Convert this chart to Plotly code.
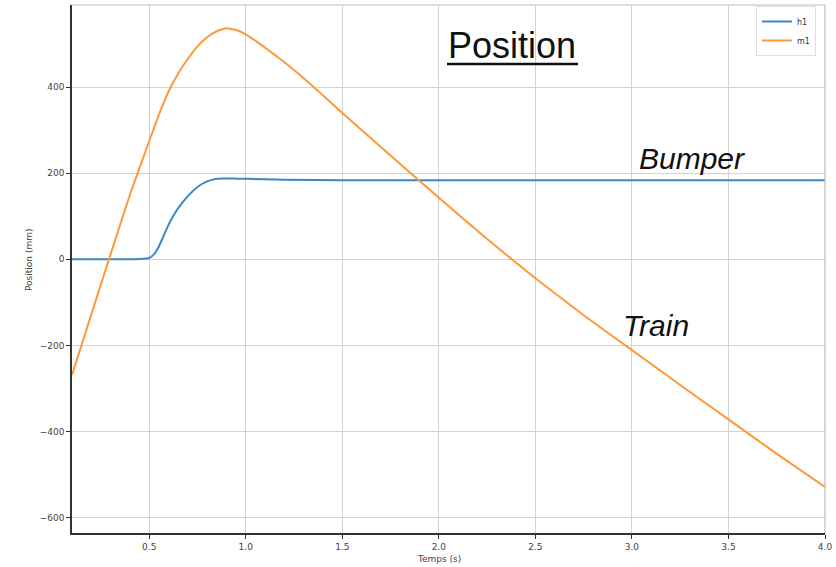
import plotly.graph_objects as go

# ---- data ----
t_h1 = [0.1, 0.3, 0.45, 0.5, 0.525, 0.55, 0.575, 0.6, 0.625, 0.65, 0.7, 0.75, 0.8, 0.85,
        0.88, 0.95, 1.0, 1.2, 1.5, 2.0, 2.5, 3.0, 3.5, 4.0]
h1 = [0, 0, 1, 3, 12, 30, 55, 80, 101, 119, 147, 168, 181, 187,
      188, 187.5, 187, 185, 184, 184, 184, 184, 184, 184]

t_m1 = [0.1, 0.2, 0.3, 0.4, 0.45, 0.5, 0.55, 0.6, 0.65, 0.7, 0.75, 0.8, 0.85, 0.9, 0.95,
        1.0, 1.05, 1.1, 1.15, 1.2, 1.3, 1.4, 1.5,
        1.75, 2.0, 2.25, 2.5, 2.75, 3.0, 3.25, 3.5, 3.75, 4.0]
m1 = [-269, -128, 12, 150, 213, 275, 336, 390, 432, 466, 495, 516, 530, 537, 533,
      523, 508, 492, 475, 458, 421, 381, 340,
      241, 143, 47, -44, -130, -211, -292, -372, -452, -529]

x_ticks = [0.5, 1.0, 1.5, 2.0, 2.5, 3.0, 3.5, 4.0]
x_ticklabels = ["0.5", "1.0", "1.5", "2.0", "2.5", "3.0", "3.5", "4.0"]
y_ticks = [-600, -400, -200, 0, 200, 400]
y_ticklabels = ["\u2212600", "\u2212400", "\u2212200", "0", "200", "400"]

series_names = ["h1", "m1"]
colors = ["#3f86c4", "#ff9838"]

W, H = 836, 567
L, R, T, B = 72, 825, 5, 533


def px(xp):
    return (xp - L) / (R - L)


def py(yp):
    return (B - yp) / (B - T)


fig = go.Figure()
fig.add_trace(go.Scatter(x=t_h1, y=h1, mode="lines", name=series_names[0],
                         line=dict(color=colors[0], width=2, shape="spline", smoothing=0.4)))
fig.add_trace(go.Scatter(x=t_m1, y=m1, mode="lines", name=series_names[1],
                         line=dict(color=colors[1], width=2, shape="spline", smoothing=0.4)))

axis_common = dict(showgrid=True, gridcolor="#d2d2d2", gridwidth=1.2, zeroline=False,
                   showline=True, linecolor="#333333", linewidth=1.6,
                   ticks="outside", ticklen=4, tickwidth=1, tickcolor="#333333",
                   tickfont=dict(family="DejaVu Sans", size=9, color="#444444"))

fig.update_xaxes(range=[0.1, 4.0], tickvals=x_ticks, ticktext=x_ticklabels, **axis_common)
fig.update_yaxes(range=[-636, 591], tickvals=y_ticks, ticktext=y_ticklabels, **axis_common)

# light top / right frame
fig.add_shape(type="line", xref="paper", yref="paper", x0=0, x1=1, y0=1, y1=1,
              line=dict(color="#bdbdbd", width=1.2))
fig.add_shape(type="line", xref="paper", yref="paper", x0=1, x1=1, y0=0, y1=1,
              line=dict(color="#bdbdbd", width=1.2))

# Title "Position" with underline
fig.add_annotation(text="Position", xref="paper", yref="paper", x=px(512), y=py(46),
                   showarrow=False, xanchor="center", yanchor="middle",
                   font=dict(family="Liberation Sans", size=36, color="#111111"))
fig.add_shape(type="line", xref="paper", yref="paper", x0=px(447), x1=px(578),
              y0=py(64), y1=py(64), line=dict(color="#111111", width=2.5))

fig.add_annotation(text="<i>Bumper</i>", xref="paper", yref="paper", x=px(692), y=py(159),
                   showarrow=False, xanchor="center", yanchor="middle",
                   font=dict(family="Liberation Sans", size=30, color="#111111"))
fig.add_annotation(text="<i>Train</i>", xref="paper", yref="paper", x=px(656), y=py(325),
                   showarrow=False, xanchor="center", yanchor="middle",
                   font=dict(family="Liberation Sans", size=30, color="#111111"))

# axis titles
fig.add_annotation(text="Temps (s)", xref="paper", yref="paper", x=px(439), y=py(559),
                   showarrow=False, xanchor="center", yanchor="middle",
                   font=dict(family="DejaVu Sans", size=9, color="#444444"))
fig.add_annotation(text="Position (mm)", xref="paper", yref="paper", x=px(29), y=py(260),
                   showarrow=False, xanchor="center", yanchor="middle", textangle=-90,
                   font=dict(family="DejaVu Sans", size=9, color="#444444"))

fig.update_layout(
    width=W, height=H,
    margin=dict(l=L, r=W - R, t=T, b=H - B),
    paper_bgcolor="white", plot_bgcolor="white",
    showlegend=True,
    legend=dict(x=px(816), y=py(6), xanchor="right", yanchor="top",
                bgcolor="rgba(255,255,255,0.9)", bordercolor="#dddddd", borderwidth=1,
                font=dict(family="DejaVu Sans", size=8, color="#333333"),
                itemwidth=30, tracegroupgap=0),
)

fig.write_html("out.html")
